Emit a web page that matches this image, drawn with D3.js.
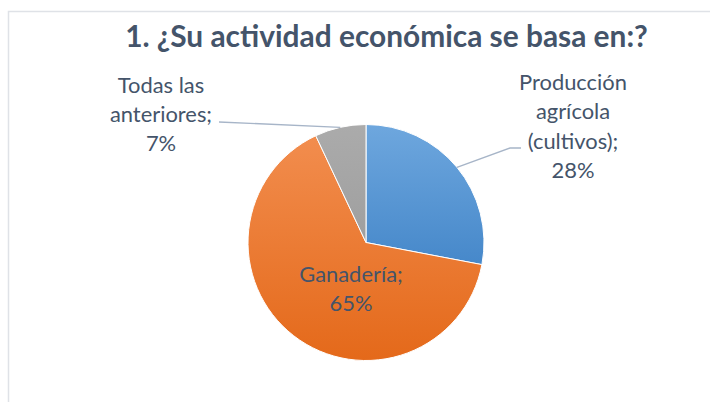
<!DOCTYPE html>
<html><head><meta charset="utf-8">
<script src="https://cdn.jsdelivr.net/npm/d3@7"></script>
<style>body{margin:0;background:#fff}svg{display:block}</style>
</head><body>
<svg id="c" width="710" height="402"></svg>
<script>
// ---- data ----
const title = "1. ¿Su actividad económica se basa en:?";
const categories = ["Producción agrícola (cultivos)", "Ganadería", "Todas las anteriores"];
const values = [28, 65, 7];
const labelLines = [
  ["Producción", "agrícola", "(cultivos);", "28%"],
  ["Ganadería;", "65%"],
  ["Todas las", "anteriores;", "7%"]
];

// ---- layout / style ----
const W = 710, H = 402;
const cx = 366, cy = 242.5, R = 118;
const colorsTop = ["#6ea7de", "#f28d4e", "#ababab"];
const colorsBot = ["#4688ca", "#e4691a", "#9f9f9f"];
const textColor = "#44546a";
const labelLayout = [
  {x: 573, y: 90, dy: 29.3, leader: [[521, 148], [510, 148]]},
  {x: 351, y: 282, dy: 29, leader: null},
  {x: 161, y: 93, dy: 29, leader: [[219, 122]]}
];

const svg = d3.select("#c");
const defs = svg.append("defs");

svg.append("rect").attr("x", 8.5).attr("y", 11.5).attr("width", 800).attr("height", 600)
  .attr("fill", "none").attr("stroke", "#dfe2e7").attr("stroke-width", 1.5);

// title
const t = svg.append("text").attr("x", 386.5).attr("y", 46.5).attr("text-anchor", "middle")
  .attr("font-family", "Lato, 'Open Sans', sans-serif").attr("font-weight", 700)
  .attr("font-size", 26).attr("fill", textColor).text(title);
const tw = t.node().getComputedTextLength();
t.attr("font-size", 26 * 523 / tw);

const pie = d3.pie().sort(null).value(d => d)(values);
const arc = d3.arc().innerRadius(0).outerRadius(R);

values.forEach((v, i) => {
  const g = defs.append("linearGradient").attr("id", "g" + i)
    .attr("x1", 0).attr("y1", 0).attr("x2", 0).attr("y2", 1);
  g.append("stop").attr("offset", 0).attr("stop-color", colorsTop[i]);
  g.append("stop").attr("offset", 1).attr("stop-color", colorsBot[i]);
});

const pg = svg.append("g").attr("transform", `translate(${cx},${cy})`);
pg.selectAll("path").data(pie).join("path")
  .attr("d", arc)
  .attr("fill", (d, i) => `url(#g${i})`)
  .attr("stroke", "#fff").attr("stroke-width", 1);

// leader lines
pie.forEach((d, i) => {
  const L = labelLayout[i];
  if (!L.leader) return;
  const a = (d.startAngle + d.endAngle) / 2;
  const p = [cx + Math.sin(a) * R, cy - Math.cos(a) * R];
  const pts = L.leader.concat([p]);
  svg.append("path").attr("d", d3.line()(pts)).attr("fill", "none")
    .attr("stroke", "#a7b5c8").attr("stroke-width", 1.4);
});

// labels
const lg = svg.append("g").attr("font-family", "Lato, 'Open Sans', sans-serif")
  .attr("fill", textColor).attr("text-anchor", "middle");
const texts = [];
labelLines.forEach((lines, i) => {
  const L = labelLayout[i];
  lines.forEach((s, j) => {
    texts.push(lg.append("text").attr("x", L.x).attr("y", L.y + j * L.dy)
      .attr("font-size", 20).text(s));
  });
});
const ref = texts[0].node().getComputedTextLength();
const fs = 20 * 108 / ref;
texts.forEach(tx => tx.attr("font-size", fs));
</script>
</body></html>
